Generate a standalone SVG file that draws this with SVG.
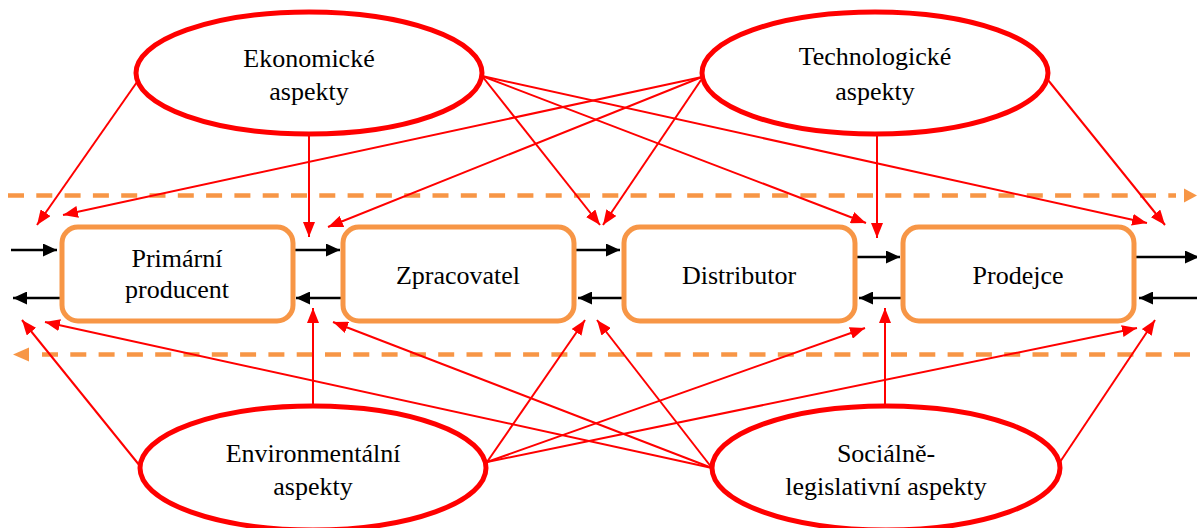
<svg xmlns="http://www.w3.org/2000/svg" width="1197" height="528" viewBox="0 0 1197 528">
  <style>
    .aspect { fill: #ffffff; stroke: #ff0000; stroke-width: 5; }
    .actor { fill: #ffffff; stroke: #f79646; stroke-width: 5; }
    .label { font-family: "Liberation Serif", "Times New Roman", serif; font-size: 26px; fill: #000000; text-anchor: middle; }
    .influence { stroke: #ff0000; stroke-width: 2; fill: none; marker-end: url(#redHead); }
    .flow { stroke: #000000; stroke-width: 2.5; fill: none; marker-end: url(#blackHead); }
    .info { stroke: #f79646; stroke-width: 4.5; fill: none; stroke-dasharray: 16 12.3; }
    .info-head { fill: #f79646; }
  </style>
  <defs>
    <marker id="redHead" markerUnits="userSpaceOnUse" markerWidth="15" markerHeight="12" viewBox="0 0 15 12" refX="15" refY="6" orient="auto">
      <path d="M0,0 L15,6 L0,12 z" fill="#ff0000"/>
    </marker>
    <marker id="blackHead" markerUnits="userSpaceOnUse" markerWidth="14" markerHeight="13" viewBox="0 0 14 13" refX="14" refY="6.5" orient="auto">
      <path d="M0,0 L14,6.5 L0,13 z" fill="#000000"/>
    </marker>
  </defs>

  <!-- information flow along the chain (dashed) -->
  <g id="info-flows">
    <path class="info" d="M8,195.5 L1176,195.5" />
    <path class="info-head" d="M1184,188.5 L1197,195.5 L1184,202.5 z"/>
    <path class="info" d="M42,354.5 L1197,354.5" />
    <path class="info-head" d="M29,347.5 L13,354.5 L29,361.5 z"/>
  </g>

  <!-- connectors -->
  <g id="connectors">
    <!-- material flow between chain members -->
    <line class="flow" x1="11" y1="250" x2="57" y2="250"/>
    <line class="flow" x1="60" y1="298" x2="13" y2="298"/>
    <line class="flow" x1="295" y1="250" x2="340" y2="250"/>
    <line class="flow" x1="343" y1="298" x2="296" y2="298"/>
    <line class="flow" x1="576" y1="250" x2="620" y2="250"/>
    <line class="flow" x1="622" y1="298" x2="578" y2="298"/>
    <line class="flow" x1="857" y1="257" x2="900" y2="257"/>
    <line class="flow" x1="902" y1="298" x2="859" y2="298"/>
    <line class="flow" x1="1136" y1="257" x2="1199" y2="257"/>
    <line class="flow" x1="1199" y1="298" x2="1139" y2="298"/>

    <!-- economic aspects -->
    <line class="influence" x1="137" y1="82" x2="37" y2="225"/>
    <line class="influence" x1="309" y1="135" x2="309" y2="237"/>
    <line class="influence" x1="482" y1="76" x2="600" y2="225"/>
    <line class="influence" x1="482" y1="76" x2="866" y2="223"/>
    <line class="influence" x1="482" y1="76" x2="1147" y2="223"/>

    <!-- technological aspects -->
    <line class="influence" x1="702" y1="77" x2="63" y2="215"/>
    <line class="influence" x1="702" y1="77" x2="328" y2="227"/>
    <line class="influence" x1="701" y1="80" x2="603" y2="225"/>
    <line class="influence" x1="877" y1="135" x2="877" y2="238"/>
    <line class="influence" x1="1048" y1="80" x2="1165" y2="225"/>

    <!-- environmental aspects -->
    <line class="influence" x1="140" y1="466" x2="22" y2="320"/>
    <line class="influence" x1="313" y1="406" x2="313" y2="308"/>
    <line class="influence" x1="487" y1="462" x2="585" y2="320"/>
    <line class="influence" x1="487" y1="462" x2="865" y2="328"/>
    <line class="influence" x1="487" y1="462" x2="1137" y2="328"/>

    <!-- social and legislative aspects -->
    <line class="influence" x1="712" y1="468" x2="45" y2="322"/>
    <line class="influence" x1="712" y1="468" x2="333" y2="322"/>
    <line class="influence" x1="712" y1="468" x2="597" y2="320"/>
    <line class="influence" x1="885" y1="406" x2="885" y2="308"/>
    <line class="influence" x1="1060" y1="462" x2="1155" y2="320"/>
  </g>

  <!-- chain members -->
  <g id="primarni-producent">
    <rect class="actor" x="62" y="227" width="231" height="94" rx="16"/>
    <text class="label" x="177" y="267">Primární</text>
    <text class="label" x="177" y="298">producent</text>
  </g>
  <g id="zpracovatel">
    <rect class="actor" x="343" y="227" width="231" height="94" rx="16"/>
    <text class="label" x="458" y="284">Zpracovatel</text>
  </g>
  <g id="distributor">
    <rect class="actor" x="624" y="227" width="231" height="94" rx="16"/>
    <text class="label" x="739" y="284">Distributor</text>
  </g>
  <g id="prodejce">
    <rect class="actor" x="903" y="227" width="231" height="94" rx="16"/>
    <text class="label" x="1018" y="284">Prodejce</text>
  </g>

  <!-- external aspects -->
  <g id="ekonomicke-aspekty">
    <ellipse class="aspect" cx="309" cy="73" rx="173" ry="61"/>
    <text class="label" x="309" y="67">Ekonomické</text>
    <text class="label" x="309" y="100">aspekty</text>
  </g>
  <g id="technologicke-aspekty">
    <ellipse class="aspect" cx="875" cy="73" rx="173" ry="61"/>
    <text class="label" x="875" y="65">Technologické</text>
    <text class="label" x="875" y="100">aspekty</text>
  </g>
  <g id="environmentalni-aspekty">
    <ellipse class="aspect" cx="313" cy="468" rx="173" ry="62"/>
    <text class="label" x="313" y="462">Environmentální</text>
    <text class="label" x="313" y="495">aspekty</text>
  </g>
  <g id="socialne-legislativni-aspekty">
    <ellipse class="aspect" cx="886" cy="468" rx="174" ry="62"/>
    <text class="label" x="886" y="462">Sociálně-</text>
    <text class="label" x="886" y="495">legislativní aspekty</text>
  </g>
</svg>
